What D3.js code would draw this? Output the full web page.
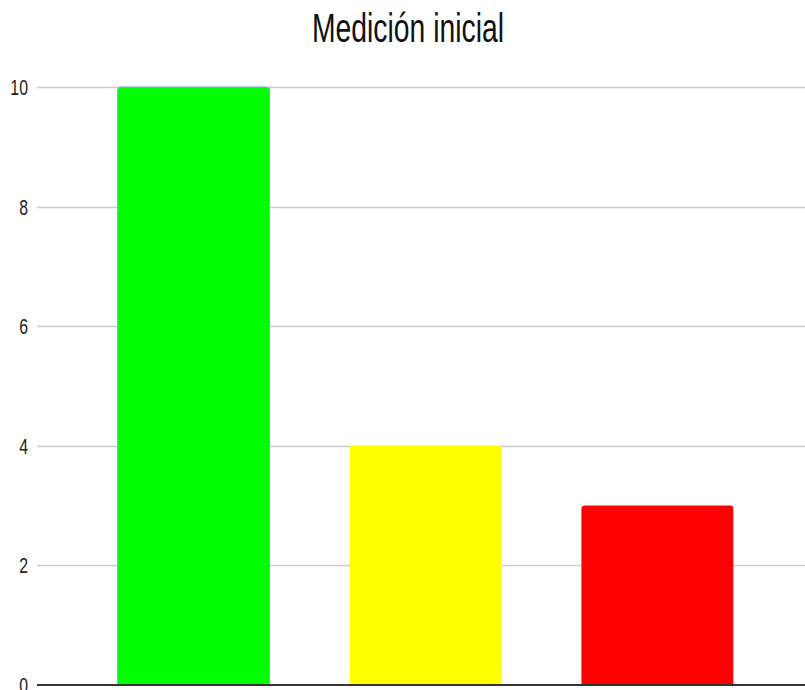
<!DOCTYPE html>
<html><head><meta charset="utf-8">
<script src="https://cdn.jsdelivr.net/npm/d3@7"></script>
<style>html,body{margin:0;padding:0;background:#fff;}</style>
</head><body>
<svg id="c" width="805" height="690"></svg>
<script>
const title = "Medición inicial";
const categories = ["A", "B", "C"];
const values = [10, 4, 3];
const barColors = ["#00ff00", "#ffff00", "#ff0000"];
const yTicks = [0, 2, 4, 6, 8, 10];

const svg = d3.select("#c");
const W = 805, H = 690;
const font = "'Liberation Sans', Arial, sans-serif";
const squeeze = 0.72;

const y = d3.scaleLinear().domain([0, 10]).range([685, 87]);
const x = d3.scaleBand().domain(categories).range([40, 811]).paddingInner(0.345).paddingOuter(0.335);

// gridlines
svg.append("g").selectAll("line").data(yTicks.filter(d => d !== 0)).join("line")
  .attr("x1", 37).attr("x2", W)
  .attr("y1", d => Math.round(y(d)) + 0.5).attr("y2", d => Math.round(y(d)) + 0.5)
  .attr("stroke", "#cccccc").attr("stroke-width", 1.5);

// tick labels
const tl = svg.append("g").selectAll("text").data(yTicks).join("text")
  .attr("x", 28).attr("y", d => y(d))
  .attr("dy", "0.36em")
  .attr("text-anchor", "end")
  .attr("font-family", font).attr("font-size", 22).attr("fill", "#222")
  .text(d => d);
tl.each(function() {
  const L = this.getComputedTextLength();
  d3.select(this).attr("textLength", L * squeeze).attr("lengthAdjust", "spacingAndGlyphs");
});

// bars with rounded top
function barPath(x0, w, yTop, yBot, r) {
  return `M${x0},${yBot}V${yTop + r}Q${x0},${yTop} ${x0 + r},${yTop}H${x0 + w - r}Q${x0 + w},${yTop} ${x0 + w},${yTop + r}V${yBot}Z`;
}
svg.append("g").selectAll("path").data(categories).join("path")
  .attr("d", (c, i) => barPath(x(c), x.bandwidth(), y(values[i]), y(0), 3))
  .attr("fill", (c, i) => barColors[i])
  .attr("stroke", (c, i) => i === 0 ? "#7aa7f5" : "none")
  .attr("stroke-width", 1);

// baseline
svg.append("line").attr("x1", 37).attr("x2", W).attr("y1", 685).attr("y2", 685)
  .attr("stroke", "#333").attr("stroke-width", 2);

// title
const t = svg.append("text").attr("x", 408).attr("y", 42).attr("text-anchor", "middle")
  .attr("font-family", font).attr("font-size", 41).attr("fill", "#111").text(title);
const tL = t.node().getComputedTextLength();
t.attr("textLength", 192).attr("lengthAdjust", "spacingAndGlyphs");
</script>
</body></html>
